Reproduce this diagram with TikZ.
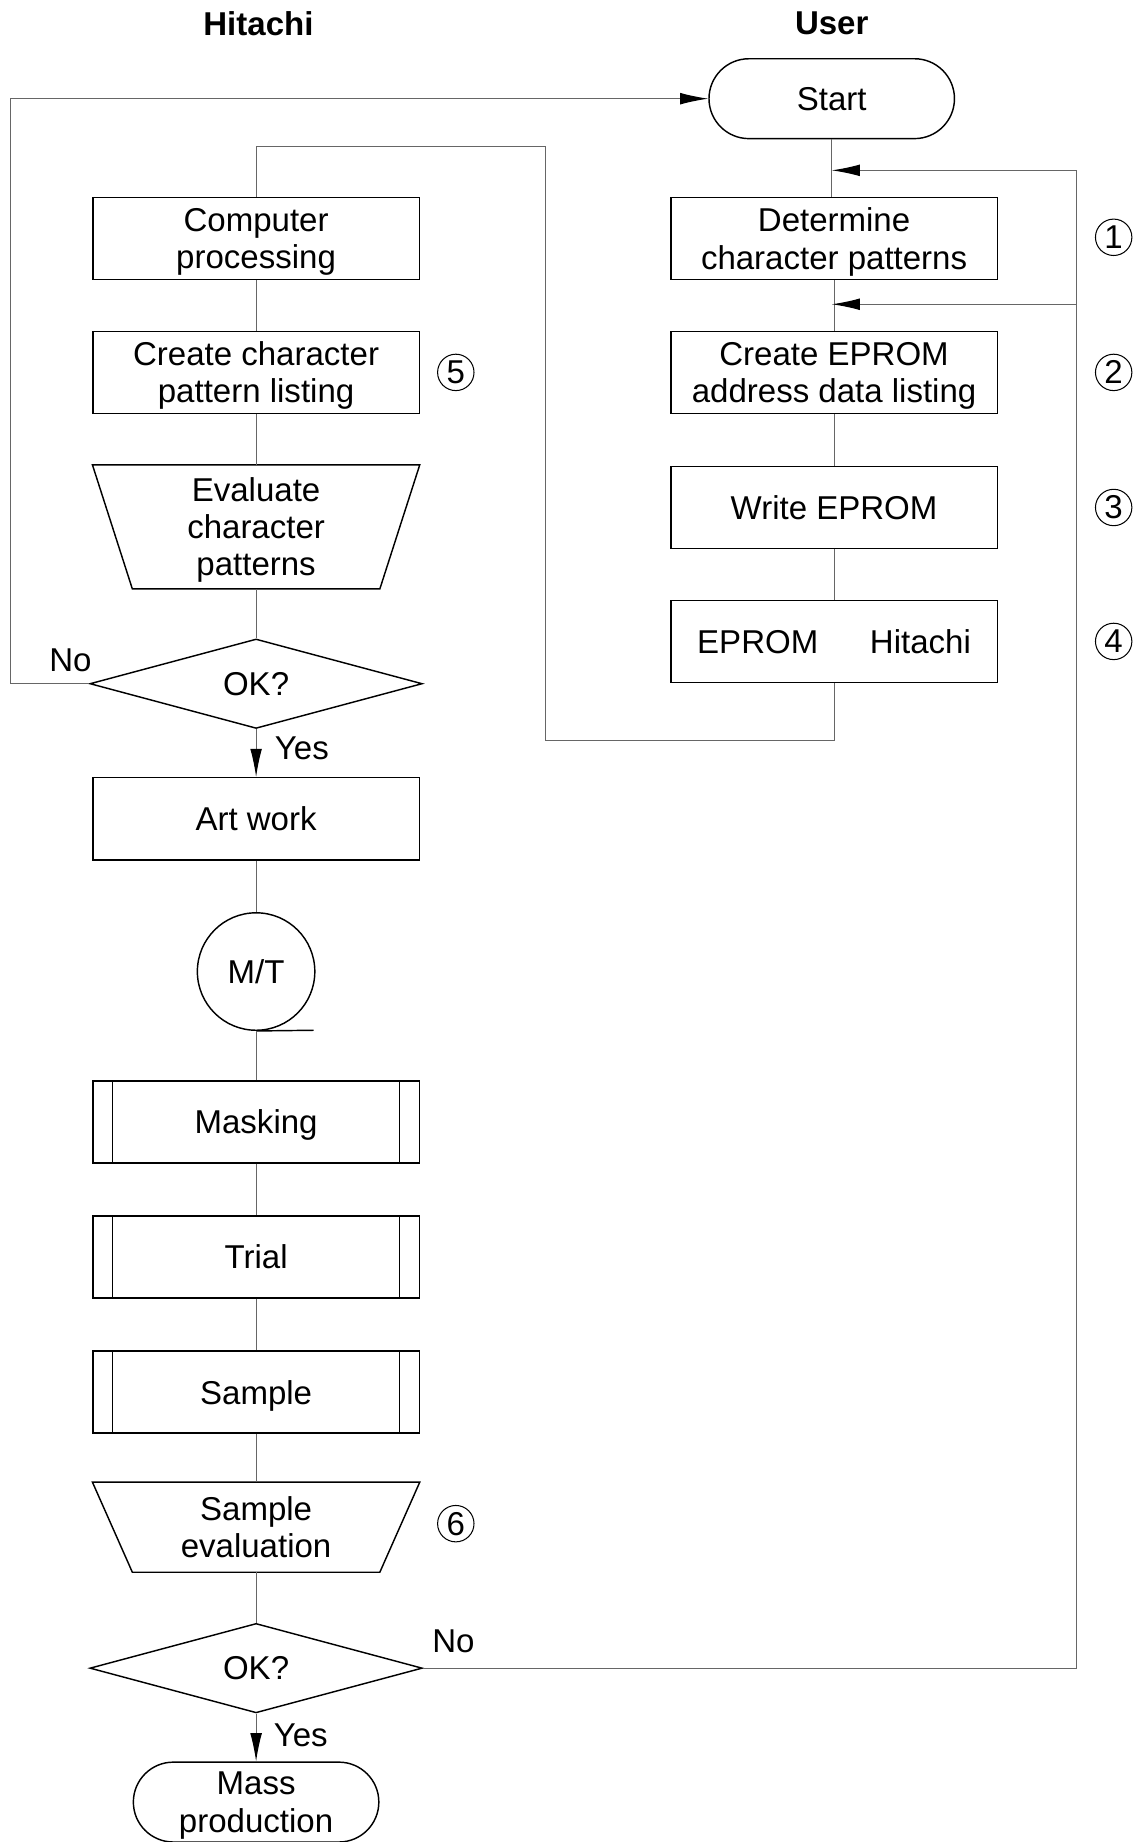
\documentclass[tikz,border=0pt]{standalone}
\usepackage{fontspec}
\setmainfont{Liberation Sans}
\usetikzlibrary{shapes.geometric,shapes.misc,arrows.meta}

\begin{document}
\begin{tikzpicture}[x=0.02cm,y=-0.02cm,
    font=\fontsize{16}{18}\selectfont,
    every node/.style={align=center},
    procbox/.style={draw,line width=0.7pt,minimum width=5.56cm,minimum height=1.4cm,inner sep=0pt,text depth=0pt},
    predef/.style={procbox,path picture={
        \draw[line width=0.6pt] ([xshift=0.34cm]path picture bounding box.north west) -- ([xshift=0.34cm]path picture bounding box.south west);
        \draw[line width=0.6pt] ([xshift=-0.34cm]path picture bounding box.north east) -- ([xshift=-0.34cm]path picture bounding box.south east);}},
    termbox/.style={draw,line width=0.7pt,rounded rectangle,minimum width=4.18cm,minimum height=1.36cm,inner sep=0pt,text depth=0pt},
    evalbox/.style={minimum width=5.56cm,inner sep=0pt,text depth=0pt},
    trapline/.style={line width=0.7pt},
    decision/.style={draw,line width=0.7pt,diamond,minimum width=5.66cm,minimum height=1.5cm,inner sep=0pt},
    tapebox/.style={draw,line width=0.7pt,circle,minimum size=2cm,inner sep=0pt},
    stepnum/.style={draw,circle,line width=0.5pt,minimum size=0.62cm,inner sep=0pt},
    link/.style={draw=black!60,line width=0.5pt},
    arr/.style={link,-{Latex[length=0.48cm,width=0.2cm,color=black]}}]

    \useasboundingbox (0,0) rectangle (973,1568);

    % titles
    \node[font=\fontsize{16}{18}\selectfont\bfseries] (hitachi) at (220,20) {Hitachi};
    \node[font=\fontsize{16}{18}\selectfont\bfseries] (user) at (708,20) {User};

    % user side
    \node[termbox] (start) at (708,84) {Start};
    \node[procbox] (det) at (710,203) {Determine\\character patterns};
    \node[procbox] (addr) at (710,317) {Create EPROM\\address data listing};
    \node[procbox] (write) at (710,432) {Write EPROM};
    \node[procbox] (send) at (710,546) {EPROM\hspace{0.88cm}Hitachi};

    % hitachi side
    \node[procbox] (comp) at (218,203) {Computer\\processing};
    \node[procbox] (listing) at (218,317) {Create character\\pattern listing};
    \node[evalbox,minimum height=2.1cm] (eval) at (218,448.5) {Evaluate\\character\\patterns};
    \node[decision] (ok1) at (218,582) {OK?};
    \node[procbox] (art) at (218,697) {Art work};
    \node[tapebox] (mt) at (218,827) {M/T};
    \node[predef] (mask) at (218,955) {Masking};
    \node[predef] (trial) at (218,1070) {Trial};
    \node[predef] (sample) at (218,1185) {Sample};
    \node[evalbox,minimum height=1.52cm] (seval) at (218,1300) {Sample\\evaluation};
    \node[decision] (ok2) at (218,1420) {OK?};
    \node[termbox] (mass) at (218,1534) {Mass\\production};

    % trapezium outlines
    \draw[trapline] (eval.north west) -- (eval.north east) -- ([xshift=-0.68cm]eval.south east) -- ([xshift=0.68cm]eval.south west) -- cycle;
    \draw[trapline] (seval.north west) -- (seval.north east) -- ([xshift=-0.68cm]seval.south east) -- ([xshift=0.68cm]seval.south west) -- cycle;

    % step numbers
    \node[stepnum] (n1) at (948,202) {1};
    \node[stepnum] (n2) at (948,317) {2};
    \node[stepnum] (n3) at (948,432) {3};
    \node[stepnum] (n4) at (948,546) {4};
    \node[stepnum] (n5) at (388,317) {5};
    \node[stepnum] (n6) at (388,1297) {6};

    % branch labels
    \node (no1) at (60,562) {No};
    \node (yes1) at (257,637) {Yes};
    \node (no2) at (386,1397) {No};
    \node (yes2) at (256,1477) {Yes};

    % corner points
    \coordinate (lft) at (9,84);
    \coordinate (c1) at (464,630);
    \coordinate (c2) at (464,125);
    \coordinate (r1) at (916,145);
    \coordinate (r2) at (916,259);
    \coordinate (a1) at (708,145);
    \coordinate (a2) at (708,259);
    \coordinate (tape) at (267,877);

    % user column
    \draw[link] (start.south) -- (start.south |- det.north);
    \draw[link] (det) -- (addr);
    \draw[link] (addr) -- (write);
    \draw[link] (write) -- (send);
    \draw[link] (send.south) |- (c1) -- (c2) -| (comp.north);

    % hitachi column
    \draw[link] (comp) -- (listing);
    \draw[link] (listing) -- (eval);
    \draw[link] (eval.south) -- (ok1.north);
    \draw[arr] (ok1.south) -- (art.north);
    \draw[link] (art) -- (mt);
    \draw[line width=0.7pt] (mt.south) -- (tape);
    \draw[link] (mt) -- (mask);
    \draw[link] (mask) -- (trial);
    \draw[link] (trial) -- (sample);
    \draw[link] (sample.south) -- (seval.north);
    \draw[link] (seval.south) -- (ok2.north);
    \draw[arr] (ok2.south) -- (mass.north);

    % loops back
    \draw[arr] (ok1.west) -| (lft) -- (start.west);
    \draw[arr] (ok2.east) -| (r1) -- (a1);
    \draw[arr] (r2) -- (a2);
\end{tikzpicture}
\end{document}
